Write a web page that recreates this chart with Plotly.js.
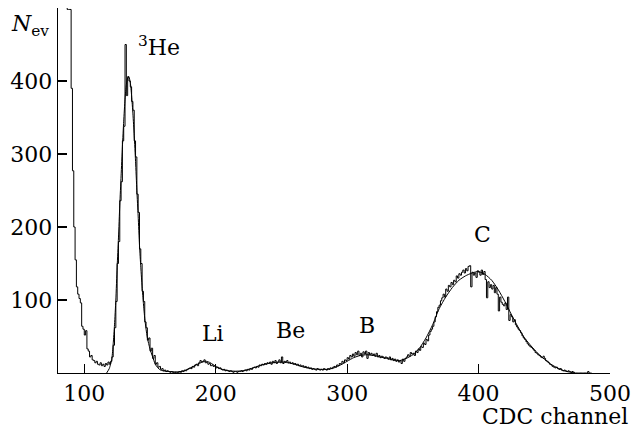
<!DOCTYPE html>
<html>
<head>
<meta charset="utf-8">
<script src="https://cdn.plot.ly/plotly-3.0.1.min.js"></script>
<style>html,body{margin:0;padding:0;background:#fff;}#chart{width:631px;height:432px;}</style>
</head>
<body>
<div id="chart"></div>
<script>
// Histogram: counts per CDC channel (1-channel bins starting at channel 80)
const binStart = 80;
const binWidth = 1;
const counts = [
  560, 555, 550, 545, 540, 530, 520, 498, 498, 498,
  390, 277, 200, 155, 118, 108, 102, 96, 64, 60,
  52, 58, 33, 30, 22, 24, 18, 17, 14, 16,
  12, 11, 14, 10, 12, 9, 13, 11, 15, 12,
  16, 22, 38, 62, 98, 150, 180, 236, 262, 318,
  338, 450, 380, 406, 400, 392, 372, 360, 318, 296,
  245, 220, 170, 150, 112, 98, 70, 62, 45, 48,
  30, 34, 20, 24, 12, 14, 8, 9, 5, 6,
  3, 4, 2, 3, 2, 1, 2, 1, 0, 1,
  1, 0, 2, 1, 3, 2, 4, 3, 5, 6,
  7, 6, 9, 8, 11, 12, 10, 14, 17, 15,
  16, 18, 14, 15, 12, 13, 10, 11, 9, 10,
  7, 8, 6, 7, 5, 4, 5, 3, 4, 3,
  2, 3, 2, 1, 2, 2, 1, 2, 2, 3,
  2, 3, 4, 3, 5, 4, 6, 5, 7, 8,
  7, 9, 8, 11, 10, 12, 11, 13, 12, 14,
  13, 15, 12, 16, 14, 17, 13, 15, 18, 14,
  22, 13, 16, 15, 17, 14, 15, 13, 14, 12,
  13, 11, 12, 10, 11, 9, 10, 8, 9, 7,
  8, 6, 7, 5, 6, 5, 4, 6, 5, 4,
  5, 4, 6, 5, 4, 6, 5, 7, 6, 8,
  9, 8, 11, 10, 13, 12, 16, 14, 18, 17,
  21, 19, 24, 22, 26, 23, 28, 25, 30, 24,
  27, 22, 29, 26, 30, 20, 28, 25, 27, 24,
  26, 23, 27, 22, 24, 21, 23, 22, 20, 22,
  21, 19, 22, 18, 20, 17, 19, 16, 18, 15,
  17, 13, 19, 16, 20, 22, 25, 23, 28, 26,
  27, 24, 30, 28, 33, 31, 36, 35, 41, 39,
  46, 44, 52, 57, 60, 64, 70, 77, 84, 90,
  93, 99, 103, 108, 104, 115, 112, 120, 118, 124,
  121, 127, 125, 133, 130, 136, 134, 138, 141, 137,
  143, 140, 146, 147, 118, 138, 134, 137, 131, 140,
  138, 134, 141, 135, 139, 128, 103, 125, 117, 121,
  115, 120, 110, 117, 108, 85, 104, 97, 94, 92,
  96, 87, 104, 72, 80, 77, 70, 73, 66, 63,
  60, 58, 55, 51, 48, 46, 43, 40, 38, 36,
  35, 33, 31, 28, 27, 25, 24, 22, 21, 23,
  20, 17, 16, 14, 12, 11, 9, 8, 7, 8,
  6, 5, 6, 4, 3, 4, 3, 2, 3, 2,
  1, 2, 1, 0, 0, 0, 0, 0, 0, 0,
  0, 0, 0, 2, 0, 0
];

// Fit curve (sum of peaks)
const fitChannel = [117,119,120,121,122,123,124,125,126,127,
  128,129,130,131,132,133,134,135,136,137,
  138,139,140,141,142,143,144,145,146,147,
  148,150,152,154,156,158,160,165,170,175,
  180,185,190,193,196,200,205,210,215,220,
  225,230,235,240,245,250,255,260,265,270,
  275,280,285,290,295,300,305,310,315,320,
  325,330,335,340,345,350,355,360,365,370,
  375,380,385,390,395,400,405,410,415,420,
  425,430,435,440,445,450,455,460,465,470,473];
const fitCounts = [0,6,12,20,40,66,100,145,185,230,
  270,310,345,375,395,404,405,398,380,355,
  325,290,250,215,175,145,118,95,75,60,
  48,33,22,12,7,4,3,2,1.5,2.5,
  6,11,15,16,14,9,5,3,2.5,3,
  5,8,11,13,14.5,15,14,12,9,7,
  5.5,5,5,7,11,16,21,24,25,24,
  22,20,18,17,20,25,34,48,66,88,
  104,117,127,133,137,139,135,127,114,98,
  80,63,48,37,27,19,12,7,3,1,0];

// Peak labels
const peakLabels = ['<sup>3</sup>He', 'Li', 'Be', 'B', 'C'];
const peakLabelX = [139.5, 197.7, 257, 315.3, 403.3];
const peakLabelY = [448, 53.6, 57.7, 64.5, 190];

const xTicks = [100, 200, 300, 400, 500];
const yTicks = [100, 200, 300, 400];

const histX = counts.map((_, i) => binStart + i * binWidth);
histX.push(binStart + counts.length * binWidth);
const histY = counts.slice();
histY.push(counts[counts.length - 1]);

const FONT = "DejaVu Serif";
const FS = 22;

const traces = [
  {x: histX, y: histY, type: 'scatter', mode: 'lines',
   line: {shape: 'hv', color: '#000', width: 1}, hoverinfo: 'skip', showlegend: false},
  {x: fitChannel, y: fitCounts, type: 'scatter', mode: 'lines',
   line: {shape: 'spline', smoothing: 0.6, color: '#000', width: 1}, hoverinfo: 'skip', showlegend: false}
];

const annotations = peakLabels.map((t, i) => ({
  x: peakLabelX[i], y: peakLabelY[i], xref: 'x', yref: 'y',
  text: t, showarrow: false,
  xanchor: i === 0 ? 'left' : 'center', yanchor: 'middle',
  font: {family: FONT, size: FS, color: '#000'}
}));
annotations.push({
  x: -0.088, y: 0.952, xref: 'paper', yref: 'paper',
  text: '<i>N</i><sub>ev</sub>', showarrow: false,
  xanchor: 'left', yanchor: 'middle',
  font: {family: FONT, size: FS, color: '#000'}
});
annotations.push({
  x: 1.036, y: -0.119, xref: 'paper', yref: 'paper',
  text: 'CDC channel', showarrow: false,
  xanchor: 'right', yanchor: 'middle',
  font: {family: FONT, size: FS, color: '#000'}
});

const layout = {
  width: 631, height: 432,
  margin: {l: 58, r: 21, t: 8, b: 59, pad: 0},
  paper_bgcolor: '#fff', plot_bgcolor: '#fff',
  showlegend: false,
  font: {family: FONT, size: FS, color: '#000'},
  xaxis: {
    range: [80, 500], tickvals: xTicks, ticktext: xTicks.map(String),
    ticks: 'inside', ticklen: 9, tickwidth: 1.2, tickcolor: '#000',
    showline: true, linecolor: '#000', linewidth: 1.4,
    showgrid: false, zeroline: false, mirror: false,
    tickfont: {family: FONT, size: FS, color: '#000'}
  },
  yaxis: {
    range: [0, 500], tickvals: yTicks, ticktext: yTicks.map(String),
    ticks: 'inside', ticklen: 9, tickwidth: 1.2, tickcolor: '#000',
    showline: true, linecolor: '#000', linewidth: 1.4,
    showgrid: false, zeroline: false, mirror: false,
    tickfont: {family: FONT, size: FS, color: '#000'}
  },
  annotations: annotations
};

Plotly.newPlot('chart', traces, layout, {staticPlot: true, displayModeBar: false});
</script>
</body>
</html>
